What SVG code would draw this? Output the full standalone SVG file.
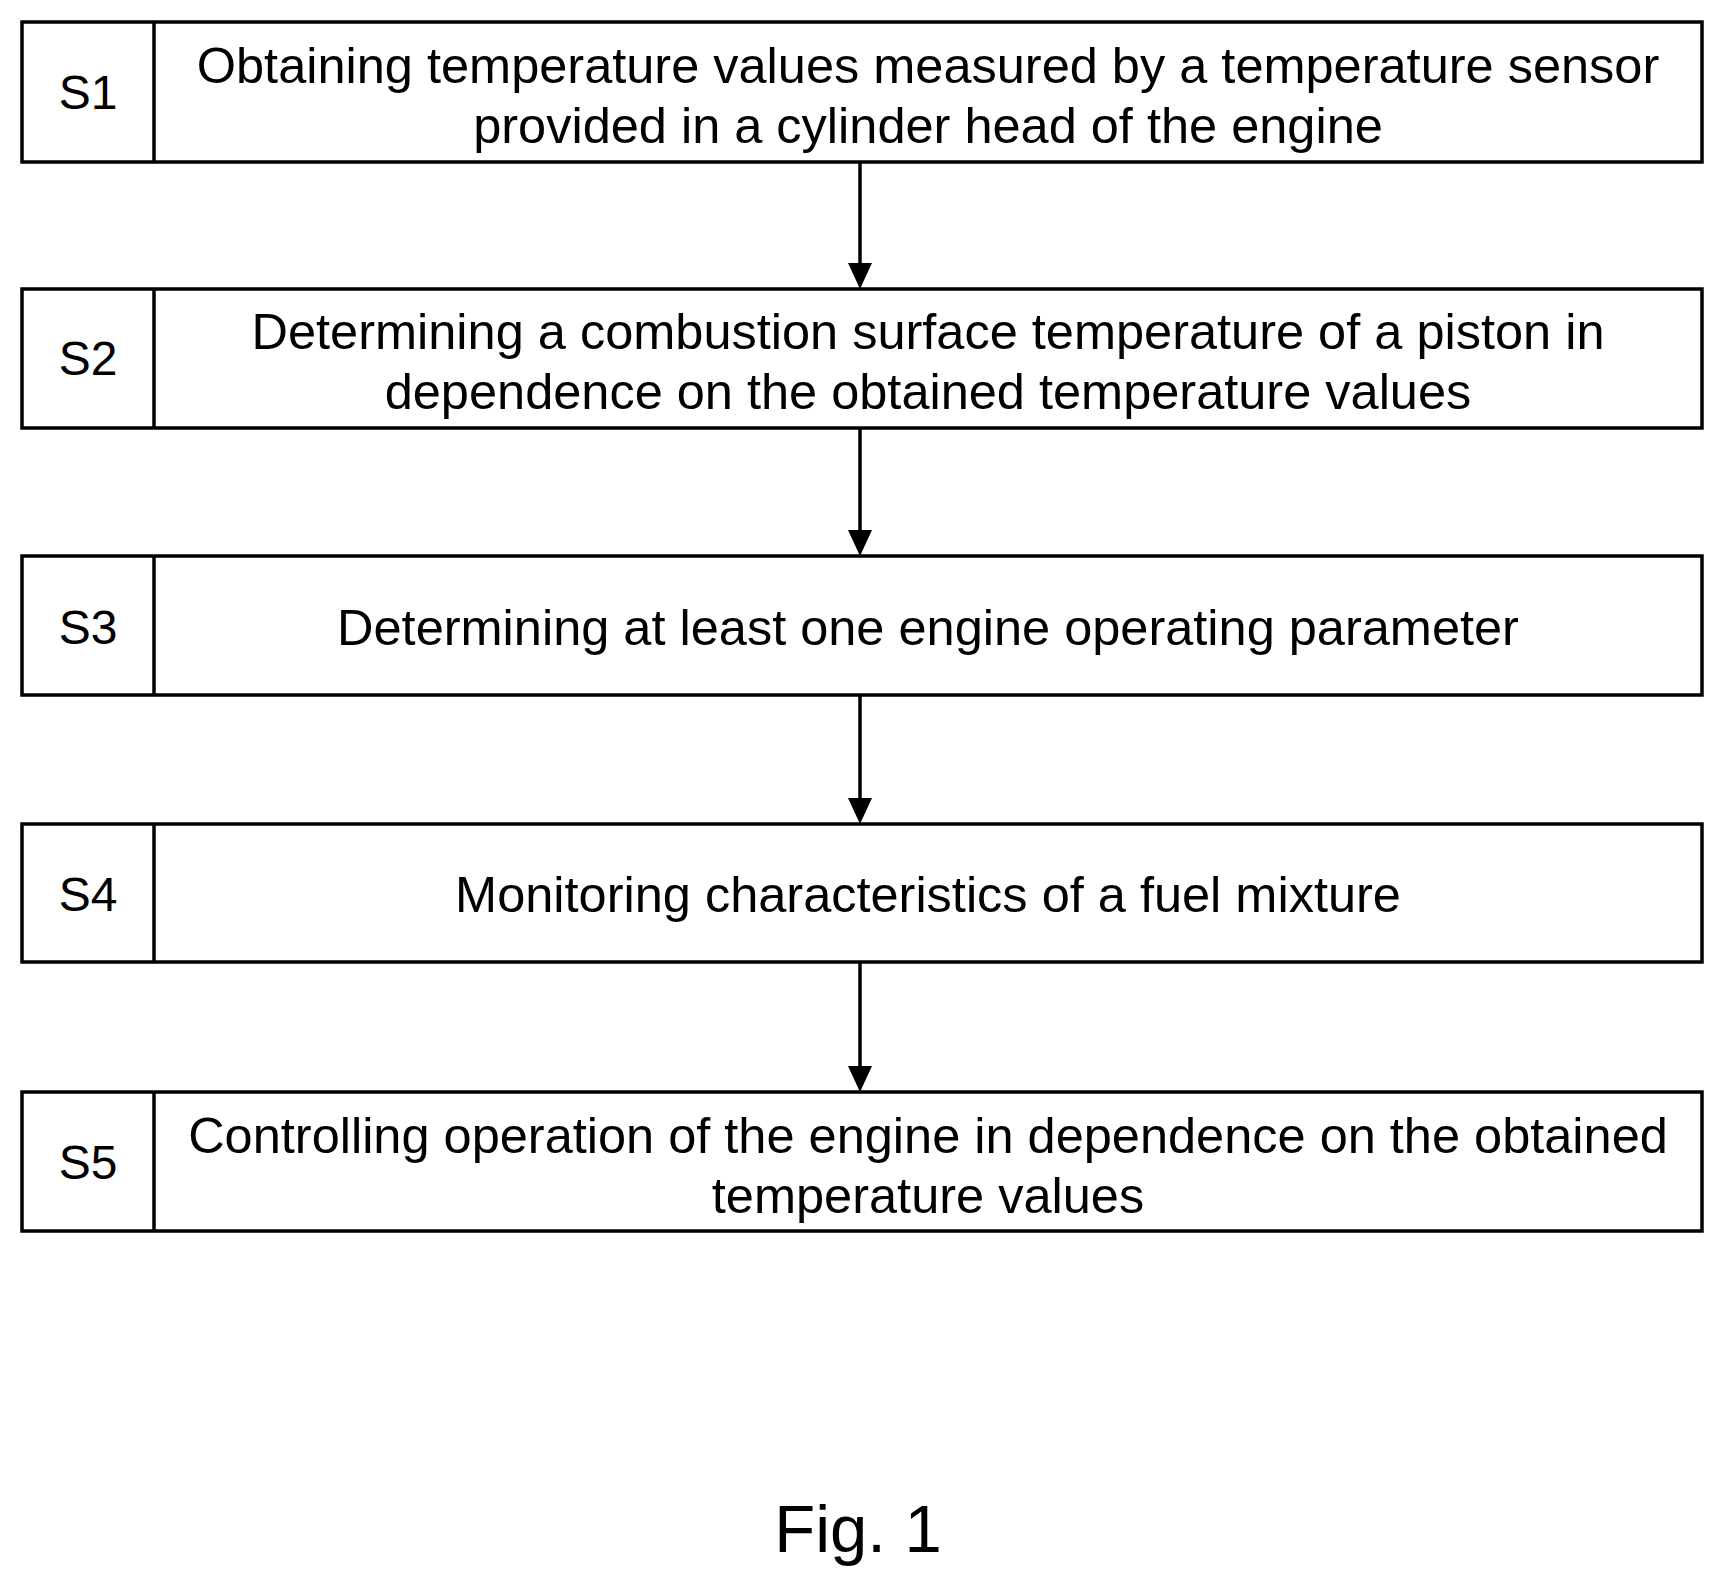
<svg xmlns="http://www.w3.org/2000/svg" width="1724" height="1585" viewBox="0 0 1724 1585">
<style>
.b{fill:#fff;stroke:#000;stroke-width:3.5}
.t{font-family:"Liberation Sans",Arial,sans-serif;font-size:50.5px;text-anchor:middle;fill:#000}
.s{font-size:48px}
.c{stroke:#000;stroke-width:3.5;fill:none}
</style>
<rect width="1724" height="1585" fill="#fff"/>
<g id="connectors">
<line class="c" x1="860" y1="162" x2="860" y2="270"/>
<line class="c" x1="860" y1="428" x2="860" y2="537"/>
<line class="c" x1="860" y1="695" x2="860" y2="805"/>
<line class="c" x1="860" y1="962" x2="860" y2="1073"/>
<path d="M848,263 L872,263 L860,289 Z"/>
<path d="M848,530 L872,530 L860,556 Z"/>
<path d="M848,798 L872,798 L860,824 Z"/>
<path d="M848,1066 L872,1066 L860,1092 Z"/>
</g>
<g id="S1"><rect class="b" x="22" y="22" width="1680" height="140"/><line class="c" x1="154" y1="22" x2="154" y2="162"/><text class="t s" x="88" y="109">S1</text><text class="t" x="928" y="83">Obtaining temperature values measured by a temperature sensor</text><text class="t" x="928" y="143">provided in a cylinder head of the engine</text></g>
<g id="S2"><rect class="b" x="22" y="289" width="1680" height="139"/><line class="c" x1="154" y1="289" x2="154" y2="428"/><text class="t s" x="88" y="375">S2</text><text class="t" x="928" y="349">Determining a combustion surface temperature of a piston in</text><text class="t" x="928" y="409">dependence on the obtained temperature values</text></g>
<g id="S3"><rect class="b" x="22" y="556" width="1680" height="139"/><line class="c" x1="154" y1="556" x2="154" y2="695"/><text class="t s" x="88" y="644">S3</text><text class="t" x="928" y="645">Determining at least one engine operating parameter</text></g>
<g id="S4"><rect class="b" x="22" y="824" width="1680" height="138"/><line class="c" x1="154" y1="824" x2="154" y2="962"/><text class="t s" x="88" y="911">S4</text><text class="t" x="928" y="912">Monitoring characteristics of a fuel mixture</text></g>
<g id="S5"><rect class="b" x="22" y="1092" width="1680" height="139"/><line class="c" x1="154" y1="1092" x2="154" y2="1231"/><text class="t s" x="88" y="1179">S5</text><text class="t" x="928" y="1153">Controlling operation of the engine in dependence on the obtained</text><text class="t" x="928" y="1213">temperature values</text></g>
<text class="t" x="858" y="1552" style="font-size:67px">Fig. 1</text>
</svg>
